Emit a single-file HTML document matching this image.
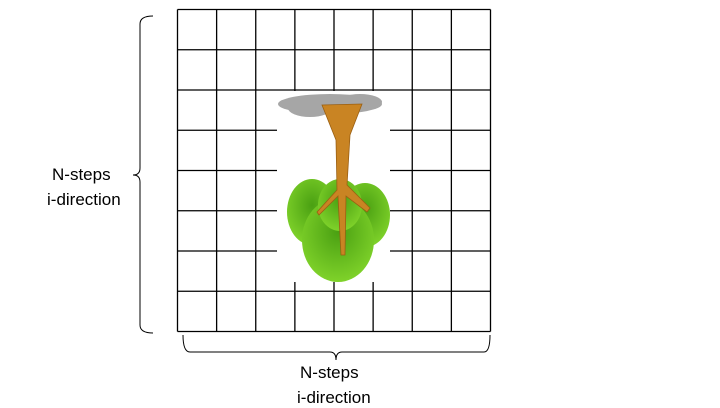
<!DOCTYPE html>
<html><head><meta charset="utf-8"><style>
html,body{margin:0;padding:0;background:#fff;}
body{width:720px;height:405px;overflow:hidden;position:relative;font-family:"Liberation Sans",sans-serif;}
.t{position:absolute;font-size:17px;color:#000;white-space:nowrap;}
</style></head><body>
<svg width="720" height="405" style="position:absolute;left:0;top:0">
<g id="grid" stroke="#000" stroke-width="1.3"></g>
<rect x="277" y="91" width="113" height="191" fill="#fff"/>
<g>
<ellipse cx="330" cy="104" rx="52" ry="10" fill="#a6a6a6"/>
<ellipse cx="310" cy="108" rx="22" ry="9" fill="#a6a6a6"/>
<ellipse cx="360" cy="102" rx="22" ry="8" fill="#a6a6a6"/>
<defs><radialGradient id="lg" cx="0.5" cy="0.4" r="0.6"><stop offset="0" stop-color="#4aa012"/><stop offset="1" stop-color="#7fd22a"/></radialGradient></defs>
<ellipse cx="312" cy="212" rx="25" ry="33" fill="url(#lg)"/>
<ellipse cx="365" cy="215" rx="25" ry="32" fill="url(#lg)"/>
<ellipse cx="338" cy="240" rx="36" ry="42" fill="url(#lg)"/>
<ellipse cx="340" cy="205" rx="22" ry="26" fill="url(#lg)"/>
<path d="M322 105 L362 104 L350 135 L347 185 L370 208 L367 212 L346 196 L345 255 L341 255 L338 196 L319 215 L317 212 L337 190 L336 140 Z" fill="#c98423" stroke="#9a5f12" stroke-width="0.8"/>
</g>
<path d="M153 16 Q140 16 140 24 L140 168 Q140 175 133 175 Q140 175 140 182 L140 325 Q140 333 153 333" fill="none" stroke="#000" stroke-width="1"/>
<path d="M183 335 Q183 352 190 352 L330 352 Q336 352 336 360 Q336 352 342 352 L484 352 Q490 352 490 335" fill="none" stroke="#000" stroke-width="1"/>
</svg>
<div class="t" style="left:52px;top:165px">N-steps</div>
<div class="t" style="left:47px;top:190px">i-direction</div>
<div class="t" style="left:300px;top:363px">N-steps</div>
<div class="t" style="left:297px;top:388px">i-direction</div>
<script>
const g=document.getElementById('grid');
const x0=177.5,x1=490.5,y0=9.5,y1=331.5,n=8;
for(let i=0;i<=n;i++){
  const x=x0+(x1-x0)*i/n, y=y0+(y1-y0)*i/n;
  const v=document.createElementNS('http://www.w3.org/2000/svg','line');
  v.setAttribute('x1',x);v.setAttribute('x2',x);v.setAttribute('y1',y0);v.setAttribute('y2',y1);
  
  
  g.appendChild(v);
  const h=document.createElementNS('http://www.w3.org/2000/svg','line');
  h.setAttribute('y1',y);h.setAttribute('y2',y);h.setAttribute('x1',x0);h.setAttribute('x2',x1);
  
  
  g.appendChild(h);
}
</script>
</body></html>
